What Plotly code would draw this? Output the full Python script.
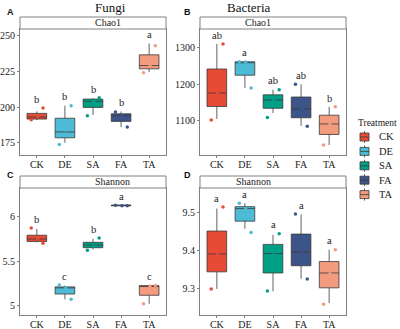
import plotly.graph_objects as go

groups = ["CK", "DE", "SA", "FA", "TA"]
colors = ["#E64B35", "#4DBBD5", "#00A087", "#3C5488", "#F39B7F"]

# Panel A: Fungi Chao1
fc_low = [191.0, 175.0, 194.5, 186.0, 224.5]
fc_q1 = [191.6, 178.5, 199.8, 190.0, 226.8]
fc_med = [193.0, 182.6, 204.0, 194.0, 229.1]
fc_q3 = [195.6, 192.2, 205.6, 195.3, 236.6]
fc_high = [197.0, 201.0, 206.2, 196.9, 244.5]
fc_pts = [[199.3, 191.2, 193.5], [201.0, 173.8, 184.0], [206.5, 193.9, 204.0],
          [186.0, 196.5, 194.0], [243.0, 224.0, 229.0]]
fc_let = ["b", "b", "b", "b", "a"]

# Panel B: Bacteria Chao1
bc_low = [1105, 1190, 1121, 1086, 1033]
bc_q1 = [1139, 1225, 1134, 1108, 1062]
bc_med = [1176, 1261, 1157, 1132, 1091]
bc_q3 = [1242, 1262, 1171, 1165, 1115]
bc_high = [1311, 1263, 1185, 1200, 1138]
bc_pts = [[1311, 1102, 1176], [1190, 1262, 1261], [1185, 1109, 1157],
          [1085, 1200, 1132], [1138, 1033, 1091]]
bc_let = ["ab", "a", "ab", "ab", "b"]

# Panel C: Fungi Shannon
fs_low = [5.71, 5.07, 5.63, 6.118, 5.02]
fs_q1 = [5.72, 5.13, 5.65, 6.120, 5.116]
fs_med = [5.747, 5.20, 5.68, 6.125, 5.22]
fs_q3 = [5.79, 5.21, 5.71, 6.128, 5.225]
fs_high = [5.86, 5.225, 5.75, 6.13, 5.228]
fs_pts = [[5.70, 5.87, 5.75], [5.07, 5.23, 5.20], [5.76, 5.62, 5.67],
          [6.12, 6.125, 6.12], [5.225, 5.02, 5.22]]
fs_let = ["b", "c", "b", "a", "c"]

# Panel D: Bacteria Shannon
bs_low = [9.300, 9.458, 9.294, 9.327, 9.263]
bs_q1 = [9.345, 9.478, 9.342, 9.361, 9.303]
bs_med = [9.392, 9.511, 9.393, 9.397, 9.342]
bs_q3 = [9.452, 9.516, 9.417, 9.444, 9.372]
bs_high = [9.511, 9.525, 9.442, 9.496, 9.403]
bs_pts = [[9.515, 9.300, 9.39], [9.448, 9.525, 9.51], [9.445, 9.295, 9.39],
          [9.326, 9.497, 9.40], [9.403, 9.260, 9.34]]
bs_let = ["a", "a", "a", "a", "a"]

JITTER = [0.22, -0.2, 0.03]
SERIF = "Liberation Serif, Times New Roman, serif"
TXT = "#222222"
FRAME = "#808080"
TICK_SIZE = 10

panels = [
    dict(low=fc_low, q1=fc_q1, med=fc_med, q3=fc_q3, high=fc_high, pts=fc_pts, let=fc_let,
         strip="Chao1", rng=[166.8, 254.7], tick=[175, 200, 225, 250]),
    dict(low=bc_low, q1=bc_q1, med=bc_med, q3=bc_q3, high=bc_high, pts=bc_pts, let=bc_let,
         strip="Chao1", rng=[1007, 1352], tick=[1100, 1200, 1300]),
    dict(low=fs_low, q1=fs_q1, med=fs_med, q3=fs_q3, high=fs_high, pts=fs_pts, let=fs_let,
         strip="Shannon", rng=[4.9, 6.32], tick=[5, 5.5, 6]),
    dict(low=bs_low, q1=bs_q1, med=bs_med, q3=bs_q3, high=bs_high, pts=bs_pts, let=bs_let,
         strip="Shannon", rng=[9.233, 9.565], tick=[9.3, 9.4, 9.5]),
]

W, H = 400, 329
def px(x):
    return x / W
def py(y):
    return 1 - y / H

xdoms = [[px(20), px(166)], [px(200), px(346)], [px(20), px(166)], [px(200), px(346)]]
ydoms = [[py(154.5), py(29)], [py(154.5), py(29)], [py(314.5), py(188)], [py(314.5), py(188)]]
strip_top = [py(17), py(17), py(176), py(176)]
letters = ["A", "B", "C", "D"]
letter_pos = [(5, 12), (182, 12), (5, 175), (182, 175)]

fig = go.Figure()
annotations = []
shapes = []

for p, pan in enumerate(panels):
    sfx = "" if p == 0 else str(p + 1)
    xa, ya = "x" + sfx, "y" + sfx
    span = pan["rng"][1] - pan["rng"][0]
    for i, g in enumerate(groups):
        fig.add_trace(go.Box(
            x=[i], q1=[pan["q1"][i]], median=[pan["med"][i]], q3=[pan["q3"][i]],
            lowerfence=[pan["low"][i]], upperfence=[pan["high"][i]],
            width=0.7, whiskerwidth=0, fillcolor=colors[i],
            line=dict(color="#3a3a3a", width=0.8),
            name=g, showlegend=False,
            boxpoints=False, xaxis=xa, yaxis=ya, hoverinfo="skip"))
        fig.add_trace(go.Scatter(
            x=[i + JITTER[k] for k in range(len(pan["pts"][i]))], y=pan["pts"][i],
            mode="markers", marker=dict(color=colors[i], size=3.5),
            showlegend=False, xaxis=xa, yaxis=ya, hoverinfo="skip"))
        top = max(pan["high"][i], max(pan["pts"][i]))
        annotations.append(dict(x=i, y=top + 0.07 * span, xref=xa, yref=ya, text=pan["let"][i],
                                showarrow=False, font=dict(family=SERIF, size=10.5, color=TXT)))
    ax = dict(domain=xdoms[p], range=[-0.6, 4.6], tickvals=list(range(5)), ticktext=groups,
              showline=True, mirror=True, linecolor=FRAME, linewidth=1, showgrid=False,
              zeroline=False, ticks="outside", ticklen=2, tickcolor=FRAME, automargin=False,
              ticklabelstandoff=-2,
              tickfont=dict(family=SERIF, size=TICK_SIZE, color=TXT), anchor=ya)
    ay = dict(domain=ydoms[p], range=pan["rng"], tickvals=pan["tick"],
              showline=True, mirror=True, linecolor=FRAME, linewidth=1, showgrid=False,
              zeroline=False, ticks="outside", ticklen=2, tickcolor=FRAME, automargin=False,
              tickfont=dict(family=SERIF, size=TICK_SIZE, color=TXT), anchor=xa)
    fig.layout["xaxis" + sfx] = ax
    fig.layout["yaxis" + sfx] = ay
    shapes.append(dict(type="rect", xref="paper", yref="paper", x0=xdoms[p][0], x1=xdoms[p][1],
                       y0=ydoms[p][1], y1=strip_top[p], fillcolor="white",
                       line=dict(color=FRAME, width=1)))
    annotations.append(dict(x=sum(xdoms[p]) / 2, y=(ydoms[p][1] + strip_top[p]) / 2,
                            xref="paper", yref="paper", text=pan["strip"], showarrow=False,
                            yanchor="middle", font=dict(family=SERIF, size=10, color=TXT)))
    lx, ly = letter_pos[p]
    annotations.append(dict(x=px(lx), y=py(ly), xref="paper", yref="paper",
                            xanchor="left", yanchor="middle",
                            text="<b>" + letters[p] + "</b>", showarrow=False,
                            font=dict(family="Liberation Sans, Arial", size=9, color="#111")))

annotations.append(dict(x=sum(xdoms[0]) / 2, y=py(7), xref="paper", yref="paper",
                        yanchor="middle", text="Fungi", showarrow=False,
                        font=dict(family=SERIF, size=13, color="#111")))
annotations.append(dict(x=sum(xdoms[1]) / 2, y=py(7), xref="paper", yref="paper",
                        yanchor="middle", text="Bacteria", showarrow=False,
                        font=dict(family=SERIF, size=13, color="#111")))

# legend drawn as keys
annotations.append(dict(x=px(356), y=py(123), xref="paper", yref="paper", xanchor="left",
                        yanchor="middle", text="Treatment", showarrow=False,
                        font=dict(family=SERIF, size=9.5, color=TXT)))
for i, g in enumerate(groups):
    cy = 137 + i * 14.4
    shapes.append(dict(type="line", xref="paper", yref="paper", x0=px(364.5), x1=px(364.5),
                       y0=py(cy - 6), y1=py(cy + 6), line=dict(color="#3a3a3a", width=0.8)))
    shapes.append(dict(type="rect", xref="paper", yref="paper", x0=px(360), x1=px(369),
                       y0=py(cy + 4), y1=py(cy - 4), fillcolor=colors[i],
                       line=dict(color="#3a3a3a", width=0.8)))
    shapes.append(dict(type="line", xref="paper", yref="paper", x0=px(360), x1=px(369),
                       y0=py(cy), y1=py(cy), line=dict(color="#3a3a3a", width=0.8)))
    annotations.append(dict(x=px(377), y=py(cy), xref="paper", yref="paper", xanchor="left",
                            yanchor="middle", text=g, showarrow=False,
                            font=dict(family=SERIF, size=10.5, color=TXT)))

fig.update_layout(
    width=W, height=H, margin=dict(l=0, r=0, t=0, b=0),
    paper_bgcolor="white", plot_bgcolor="white",
    annotations=annotations, shapes=shapes, showlegend=False,
)

fig.write_html("out.html", config={"displayModeBar": False},
               post_script="document.body.style.margin='0px';")
